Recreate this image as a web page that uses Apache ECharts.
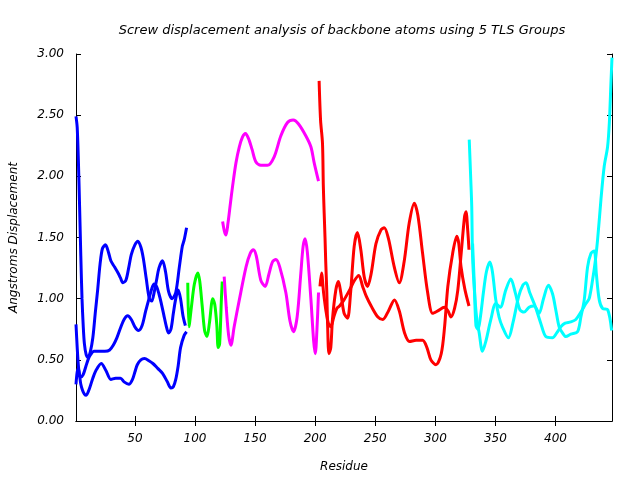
<!DOCTYPE html>
<html>
<head>
<meta charset="utf-8">
<script src="https://cdn.jsdelivr.net/npm/echarts@6/dist/echarts.min.js"></script>
<style>html,body{margin:0;padding:0;background:#fff}#c{width:640px;height:480px}</style>
</head>
<body>
<div id="c"></div>
<script>
const titleText = 'Screw displacement analysis of backbone atoms using 5 TLS Groups';
const xName = 'Residue';
const yName = 'Angstroms Displacement';
const xTicks = [50, 100, 150, 200, 250, 300, 350, 400];

// Group 1 (blue), residues 1-93
const blueUpper = [[1,2.49],[2,2.4],[3,2.12],[4,1.75],[5,1.35],[6,1.0],[7,0.78],[8,0.63],[9.5,0.54],[11,0.52],[13,0.57],[15,0.68],[17,0.88],[19,1.07],[21,1.28],[23,1.41],[25.5,1.44],[28,1.38],[30,1.31],[33,1.26],[36,1.21],[38,1.17],[40,1.13],[42.5,1.15],[45,1.26],[47,1.36],[50,1.44],[52.5,1.47],[55,1.42],[57,1.33],[59.5,1.16],[62,1.0],[64,0.98],[66,1.05],[68,1.15],[70,1.25],[73,1.31],[75.5,1.22],[78,1.06],[81,1.0],[84,1.05],[87,1.26],[89.5,1.43],[91,1.48],[93,1.58]];
const blueMiddle = [[1,0.79],[2,0.6],[3,0.45],[4,0.37],[5,0.36],[7,0.38],[9,0.44],[11,0.5],[13,0.54],[16,0.57],[20,0.57],[25,0.57],[29,0.58],[32,0.62],[35,0.68],[38,0.76],[41,0.83],[44,0.86],[47,0.83],[50,0.77],[53,0.74],[56,0.78],[59,0.9],[62,1.01],[64,1.08],[66,1.12],[68,1.1],[70,1.04],[72,0.96],[74,0.87],[76,0.78],[78,0.72],[80,0.75],[82,0.88],[84,1.0],[86,1.07],[88,1.0],[90,0.86],[92,0.78]];
const blueLower = [[1,0.3],[2,0.4],[3,0.43],[4,0.37],[5,0.3],[6.5,0.25],[8,0.22],[9.5,0.21],[12,0.26],[15,0.35],[18,0.42],[22,0.47],[26,0.41],[30,0.34],[34,0.35],[38,0.35],[41,0.32],[45,0.3],[48,0.34],[50,0.4],[52,0.46],[55,0.5],[58,0.51],[62,0.49],[65,0.47],[69,0.43],[73,0.39],[77,0.32],[80,0.27],[82,0.28],[84,0.34],[86,0.45],[88,0.6],[91,0.7],[93,0.73]];

// Group 2 (green), residues 94-123
const green1 = [[94,1.13],[95,0.77],[97,0.93],[99.5,1.12],[102.4,1.21],[104,1.14],[106,0.94],[108,0.74],[110,0.69],[112,0.8],[114.8,1.0],[116.5,0.95],[118.2,0.78],[119.3,0.6],[120.5,0.63],[122,1.0],[122.7,1.14]];

// Group 3 (magenta), residues 123-203
const magentaUpper = [[123,1.63],[124.5,1.55],[125.8,1.52],[127.5,1.62],[129.5,1.78],[131.3,1.92],[134.1,2.11],[136.9,2.24],[139.5,2.32],[142,2.35],[144.5,2.31],[147.5,2.22],[150.6,2.12],[154.8,2.09],[160.3,2.09],[165.9,2.16],[171.4,2.33],[177,2.44],[181.7,2.46],[186,2.43],[192.3,2.33],[196.5,2.24],[199.2,2.11],[202.8,1.96]];
const magentaLower = [[124.3,1.18],[126,0.93],[128,0.7],[129.9,0.62],[132.6,0.77],[136.9,0.99],[142.5,1.26],[146,1.37],[148.6,1.4],[151,1.35],[154.8,1.15],[158.4,1.1],[161.5,1.2],[164.5,1.3],[167.3,1.32],[170.5,1.26],[175.6,1.05],[179,0.82],[182,0.73],[185,0.85],[188.1,1.21],[190,1.43],[191.7,1.49],[193.5,1.38],[196.5,0.99],[198.7,0.66],[200.1,0.55],[201.5,0.75],[202.8,1.05]];

// Group 4 (red), residues 203-328
const redUpper = [[203.3,2.78],[204.5,2.46],[206.1,2.27],[206.8,1.92],[207.5,1.7],[208.2,1.5],[208.8,1.3],[209.7,1.05],[210.4,0.77],[211.5,0.55],[213,0.6],[214.4,0.83],[217.2,1.07],[219.4,1.14],[221.3,1.05],[224.1,0.88],[226.9,0.84],[229.5,1.05],[232.5,1.43],[235.2,1.54],[238,1.4],[240.8,1.18],[243.6,1.1],[246.5,1.2],[250.6,1.45],[254.7,1.56],[257.5,1.58],[261,1.49],[265.8,1.26],[270,1.13],[274,1.3],[278.3,1.62],[282.5,1.78],[285.5,1.68],[289.4,1.37],[293.6,1.05],[297.8,0.88],[302,0.9],[307.5,0.93],[310.5,0.9],[313,0.85],[316,0.92],[318.7,1.07],[321.5,1.37],[324.3,1.67],[325.5,1.71],[327,1.55],[328,1.4]];
const redLower = [[204,1.1],[205.3,1.21],[207,1.05],[209,0.9],[211,0.8],[213,0.77],[215.5,0.85],[218,0.92],[220.3,0.94],[224,0.99],[228.6,1.07],[232.8,1.15],[236.3,1.19],[239.5,1.1],[242.5,1.02],[246.6,0.94],[252.2,0.85],[256.3,0.83],[261,0.9],[266,0.99],[270,0.9],[274.4,0.72],[278.6,0.65],[284,0.66],[289.4,0.66],[293,0.6],[296.3,0.5],[300.5,0.46],[304.9,0.55],[307.7,0.77],[310.4,1.1],[314.4,1.37],[317.9,1.51],[319.5,1.45],[321.4,1.26],[324.5,1.08],[328,0.94]];

// Group 5 (cyan), residues 328-447
const cyan1 = [[328.2,2.3],[329.5,1.97],[330.3,1.75],[331,1.34],[332.5,1.07],[334.3,0.85],[336.5,0.72],[339.2,0.57],[342,0.65],[346.2,0.83],[350.3,0.96],[354,0.93],[358.6,1.07],[362.8,1.16],[366.5,1.05],[370.3,0.91],[373.8,0.89],[378,0.93],[382.2,0.94],[386.3,0.88],[390,1.0],[394.1,1.11],[397.5,1.04],[400.2,0.91],[403,0.77],[405.8,0.72],[408.6,0.69],[412.7,0.71],[418.3,0.73],[421.1,0.85],[423.9,0.99],[426.7,1.26],[429.5,1.37],[432.2,1.39],[434,1.2],[436.4,0.99],[439.2,0.92],[443.4,0.91],[446.7,0.74]];
const cyan2 = [[331,1.45],[332.5,1.1],[333.8,0.78],[335.5,0.75],[337.5,0.85],[340,1.05],[342.5,1.22],[345.4,1.3],[347.5,1.22],[350.3,0.99],[353,0.85],[355.8,0.77],[360.8,0.68],[364.5,0.8],[369.4,1.02],[372.8,1.11],[375.5,1.13],[378.5,1.05],[383,0.94],[387.7,0.8],[391.9,0.69],[397.4,0.68],[401,0.72],[404.4,0.77],[408,0.8],[412.7,0.81],[416.9,0.83],[421.1,0.89],[425.3,0.96],[428,1.0],[430.8,1.15],[433,1.3],[435,1.48],[437.8,1.81],[440.5,2.08],[443.3,2.24],[444.8,2.44],[446.1,2.76],[447,2.97]];

const FONT = 'DejaVu Sans';
const lineSeries = [
  [blueUpper, '#0000ff'], [blueMiddle, '#0000ff'], [blueLower, '#0000ff'],
  [green1, '#00ff00'],
  [magentaUpper, '#ff00ff'], [magentaLower, '#ff00ff'],
  [redUpper, '#ff0000'], [redLower, '#ff0000'],
  [cyan1, '#00ffff'], [cyan2, '#00ffff']
].map(([d, c]) => ({
  type: 'line', data: d, smooth: 0.3, showSymbol: false, symbol: 'none',
  lineStyle: { color: c, width: 3 }, itemStyle: { color: c },
  animation: false, xAxisIndex: 0, yAxisIndex: 0
}));

const lbl = { fontFamily: FONT, fontStyle: 'italic', fontSize: 12, color: '#000' };
const chart = echarts.init(document.getElementById('c'), null, { renderer: 'canvas' });
chart.setOption({
  animation: false,
  backgroundColor: '#fff',
  title: { text: titleText, left: 337, top: 19, textAlign: 'center',
    textStyle: { fontFamily: FONT, fontStyle: 'italic', fontSize: 13, fontWeight: 'normal', color: '#000' } },
  grid: { left: 76, right: 28, top: 54, bottom: 59 },
  xAxis: [
    { type: 'value', min: 1, max: 447, position: 'bottom',
      name: xName, nameLocation: 'middle', nameGap: 40, nameTextStyle: lbl,
      axisLine: { show: true, lineStyle: { color: '#000', width: 1 } },
      axisTick: { show: true, inside: true, length: 5, customValues: xTicks, lineStyle: { color: '#000' } },
      axisLabel: { show: true, customValues: xTicks, margin: 12, ...lbl },
      splitLine: { show: false } },
    { type: 'value', min: 1, max: 447, position: 'top',
      axisLine: { show: true, lineStyle: { color: '#000', width: 1 } },
      axisTick: { show: true, inside: true, length: 5, customValues: xTicks, lineStyle: { color: '#000' } },
      axisLabel: { show: false }, splitLine: { show: false } }
  ],
  yAxis: [
    { type: 'value', min: 0, max: 3, interval: 0.5, position: 'left',
      name: yName, nameLocation: 'middle', nameGap: 56, nameTextStyle: lbl,
      axisLine: { show: true, lineStyle: { color: '#000', width: 1 } },
      axisTick: { show: true, inside: true, length: 5, lineStyle: { color: '#000' } },
      axisLabel: { show: true, margin: 12, formatter: v => v.toFixed(2), ...lbl },
      splitLine: { show: false } },
    { type: 'value', min: 0, max: 3, interval: 0.5, position: 'right',
      axisLine: { show: true, lineStyle: { color: '#000', width: 1 } },
      axisTick: { show: true, inside: true, length: 5, lineStyle: { color: '#000' } },
      axisLabel: { show: false }, splitLine: { show: false } }
  ],
  series: lineSeries
});
</script>
</body>
</html>
